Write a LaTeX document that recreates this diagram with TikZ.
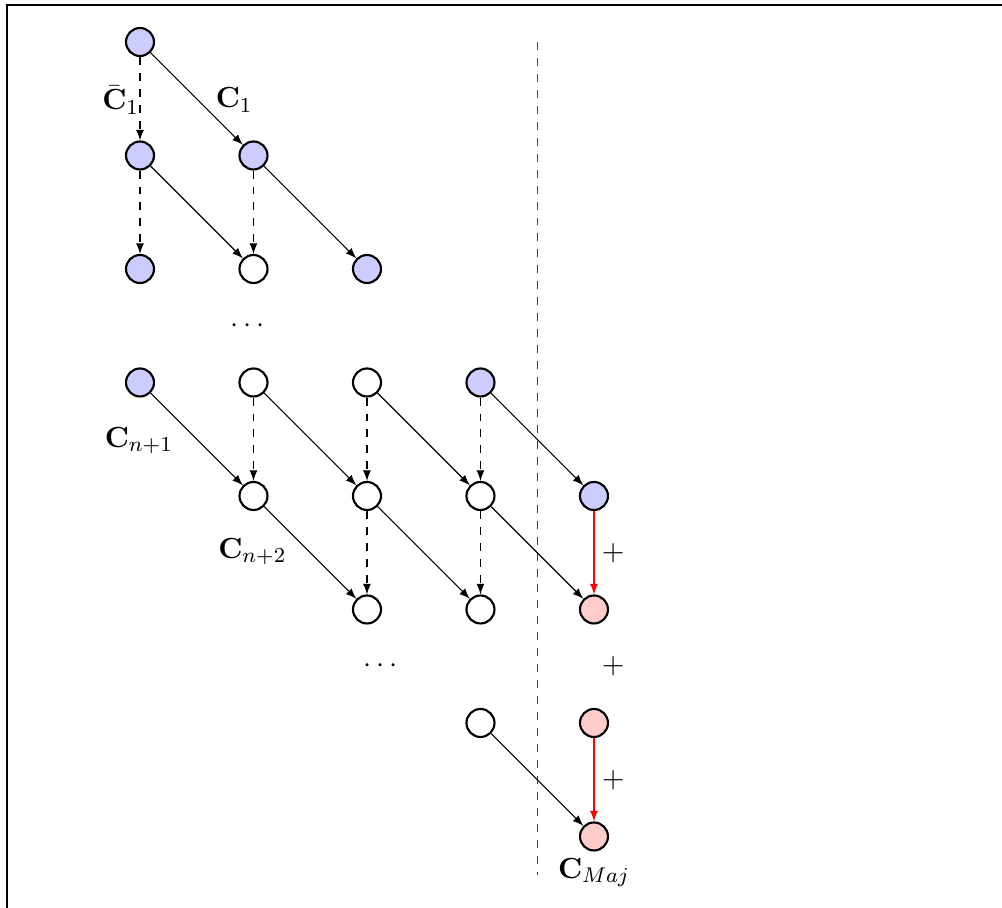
\documentclass[tikz,border=0pt]{standalone}
\usepackage{amsmath}
\usepackage{amssymb}
\usepackage{xcolor}
\usetikzlibrary{positioning,calc}

\tikzset{
  st/.style={circle,draw,thick,minimum size=0.37cm,inner sep=0pt},
  sel/.style={st,fill=blue!20},
  acc/.style={st,fill=red!20},
  free/.style={st,fill=white},
  lbl/.style={font=\fontsize{11.2}{13}\selectfont},
  tr/.style={-latex,thin},
  nt/.style={-latex,thin,dashed},
  mj/.style={-latex,thin,red}
}

\begin{document}
\begin{tikzpicture}[x=1.5cm,y=1.5cm]
 \useasboundingbox (-1.2335,-7.630) rectangle (7.595,0.370);
 \draw[line width=0.6pt] (-1.172,-7.630) -- (-1.172,0.326) -- (7.595,0.326);
 %
 \node[sel] (a0) at (0,0) {};
 \node[sel] (a1) at (0,-1) {};
 \node[sel] (b1) at (1,-1) {};
 \node[sel] (a2) at (0,-2) {};
 \node[free] (b2) at (1,-2) {};
 \node[sel] (c2) at (2,-2) {};
 \node[lbl] (dots1) at (0.97,-2.5) {$\cdots$};
 \node[sel] (a3) at (0,-3) {};
 \node[free] (b3) at (1,-3) {};
 \node[free] (c3) at (2,-3) {};
 \node[sel] (d3) at (3,-3) {};
 \node[free] (b4) at (1,-4) {};
 \node[free] (c4) at (2,-4) {};
 \node[free] (d4) at (3,-4) {};
 \node[sel] (e4) at (4,-4) {};
 \node[free] (c5) at (2,-5) {};
 \node[free] (d5) at (3,-5) {};
 \node[acc] (e5) at (4,-5) {};
 \node[lbl] (dots2) at (2.14,-5.5) {$\cdots$};
 \node[free] (d6) at (3,-6) {};
 \node[acc] (e6) at (4,-6) {};
 \node[acc] (e7) at (4,-7) {};
 %
 \node[lbl] (cb1) at (-0.17,-0.51) {$\bar{\mathbf{C}}_1$};
 \node[lbl] (c1) at (0.83,-0.51) {$\mathbf{C}_1$};
 \node[lbl] (cn1) at (-0.01,-3.51) {$\mathbf{C}_{n+1}$};
 \node[lbl] (cn2) at (0.99,-4.49) {$\mathbf{C}_{n+2}$};
 \node[lbl] (cmaj) at (4.0,-7.32) {$\mathbf{C}_{Maj}$};
 \node[lbl] (p1) at (4.17,-4.5) {$+$};
 \node[lbl] (p2) at (4.17,-5.5) {$+$};
 \node[lbl] (p3) at (4.17,-6.5) {$+$};
 %
 \coordinate (sep1) at (3.5,0);
 \coordinate (sep2) at (3.5,-7.34);
 \draw[dashed,black!75] (sep1) -- (sep2);
 %
 \draw[tr] (a0) -- (b1);
 \draw[tr] (a1) -- (b2);
 \draw[tr] (b1) -- (c2);
 \draw[tr] (a3) -- (b4);
 \draw[tr] (b3) -- (c4);
 \draw[tr] (c3) -- (d4);
 \draw[tr] (d3) -- (e4);
 \draw[tr] (b4) -- (c5);
 \draw[tr] (c4) -- (d5);
 \draw[tr] (d4) -- (e5);
 \draw[tr] (d6) -- (e7);
 %
 \draw[nt] (a0) -- (a1);
 \draw[nt] (a1) -- (a2);
 \draw[nt] (b1) -- (b2);
 \draw[nt] (b3) -- (b4);
 \draw[nt] (c3) -- (c4);
 \draw[nt] (d3) -- (d4);
 \draw[nt] (c4) -- (c5);
 \draw[nt] (d4) -- (d5);
 %
 \draw[mj] (e4) -- (e5);
 \draw[mj] (e6) -- (e7);
\end{tikzpicture}
\end{document}
